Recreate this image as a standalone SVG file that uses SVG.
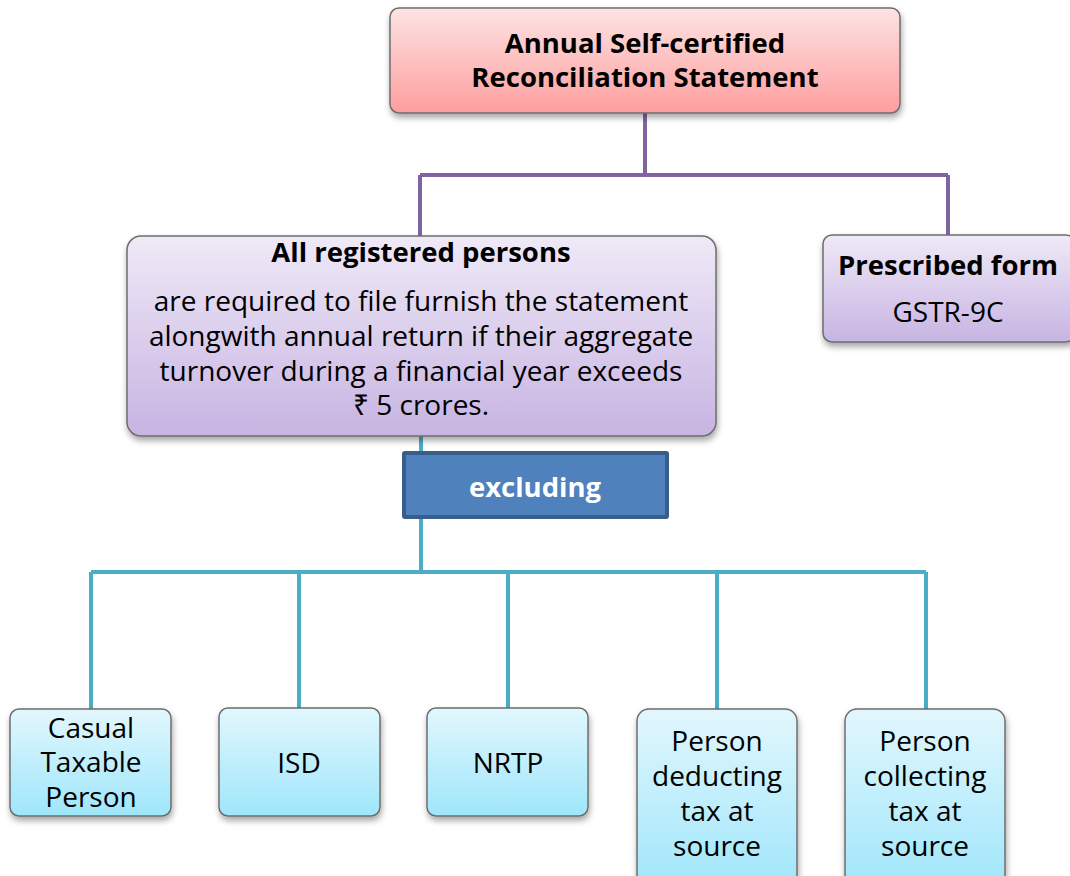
<svg xmlns="http://www.w3.org/2000/svg" width="1070" height="876" viewBox="0 0 1070 876">
<defs>
<linearGradient id="gPink" x1="0" y1="0" x2="0" y2="1"><stop offset="0" stop-color="#fde3e3"/><stop offset="1" stop-color="#fe9e9e"/></linearGradient>
<linearGradient id="gPurple" x1="0" y1="0" x2="0" y2="1"><stop offset="0" stop-color="#efe9f7"/><stop offset="1" stop-color="#c7b4e2"/></linearGradient>
<linearGradient id="gBlue" x1="0" y1="0" x2="0" y2="1"><stop offset="0" stop-color="#e2f7fd"/><stop offset="1" stop-color="#9fe6fb"/></linearGradient>
<filter id="sh" x="-10%" y="-10%" width="120%" height="130%"><feDropShadow dx="1" dy="4" stdDeviation="3" flood-color="#000" flood-opacity="0.35"/></filter>
<style>
.box{stroke:#6d6d6d;stroke-width:1.5;filter:url(#sh)}
.t{font-family:"Open Sans","Noto Sans","DejaVu Sans",sans-serif;fill:#000;text-anchor:middle;font-size:28px}
.b{font-weight:bold;font-size:27.5px}
.pl{fill:none;stroke:#8064a2;stroke-width:4}
.tl{fill:none;stroke:#4bacc6;stroke-width:4}
</style>
</defs>
<g id="connectors">
<path class="pl" d="M645 113 V175 M420 175 H948 M420 175 V238 M948 175 V236"/>
<path class="tl" d="M421 436 V454 M421 516 V572 M91 572 H926 M91 572 V710 M299 572 V709 M508 572 V709 M717 572 V710 M926 572 V710"/>
</g>
<g id="n-top">
<rect class="box" x="390" y="8" width="510" height="105" rx="9" fill="url(#gPink)"/>
<text class="t b" x="645" y="53">Annual Self-certified</text>
<text class="t b" x="645" y="87">Reconciliation Statement</text>
</g>
<g id="n-all">
<rect class="box" x="127" y="236" width="589" height="200" rx="14" fill="url(#gPurple)"/>
<text class="t b" x="421" y="262">All registered persons</text>
<text class="t" x="421" y="311">are required to file furnish the statement</text>
<text class="t" x="421" y="346">alongwith annual return if their aggregate</text>
<text class="t" x="421" y="381">turnover during a financial year exceeds</text>
<text class="t" x="421" y="415">₹ 5 crores.</text>
</g>
<g id="n-form">
<rect class="box" x="823" y="235" width="252" height="107" rx="9" fill="url(#gPurple)"/>
<text class="t b" x="948" y="275">Prescribed form</text>
<text class="t" x="948" y="322">GSTR-9C</text>
</g>
<g id="n-excl">
<rect x="404" y="453" width="263" height="64" fill="#4f81bd" stroke="#385d8a" stroke-width="4" rx="1"/>
<text class="t b" x="535" y="497" style="fill:#fff">excluding</text>
</g>
<g id="n-casual">
<rect class="box" x="10" y="709" width="161" height="107" rx="9" fill="url(#gBlue)"/>
<text class="t" x="91" y="738">Casual</text>
<text class="t" x="91" y="772">Taxable</text>
<text class="t" x="91" y="807">Person</text>
</g>
<g id="n-isd">
<rect class="box" x="219" y="708" width="161" height="108" rx="9" fill="url(#gBlue)"/>
<text class="t" x="299" y="773">ISD</text>
</g>
<g id="n-nrtp">
<rect class="box" x="427" y="708" width="161" height="108" rx="9" fill="url(#gBlue)"/>
<text class="t" x="508" y="773">NRTP</text>
</g>
<g id="n-tds">
<rect class="box" x="637" y="709" width="160" height="180" rx="12" fill="url(#gBlue)"/>
<text class="t" x="717" y="751">Person</text>
<text class="t" x="717" y="786">deducting</text>
<text class="t" x="717" y="821">tax at</text>
<text class="t" x="717" y="856">source</text>
</g>
<g id="n-tcs">
<rect class="box" x="845" y="709" width="160" height="180" rx="12" fill="url(#gBlue)"/>
<text class="t" x="925" y="751">Person</text>
<text class="t" x="925" y="786">collecting</text>
<text class="t" x="925" y="821">tax at</text>
<text class="t" x="925" y="856">source</text>
</g>
</svg>
